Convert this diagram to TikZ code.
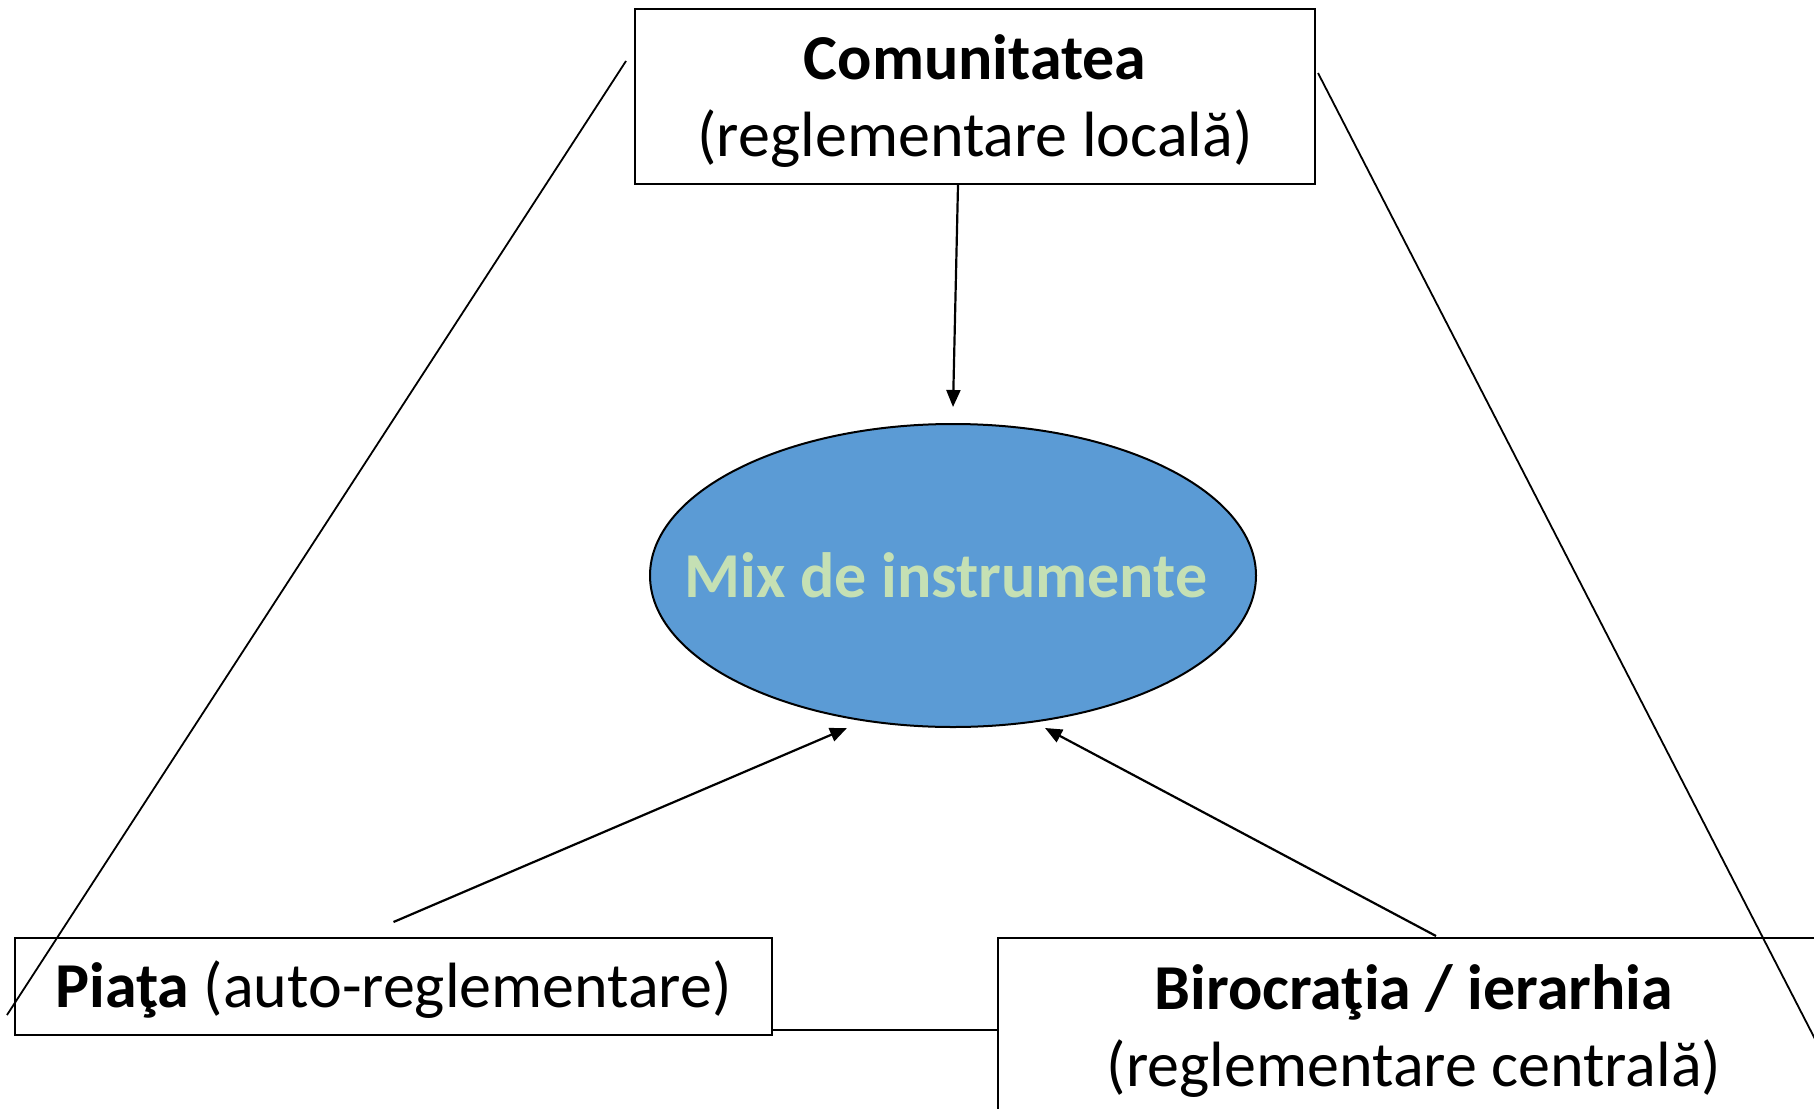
\documentclass[tikz,border=0pt]{standalone}
\usepackage{fontspec}
\setmainfont{Carlito}
\usetikzlibrary{arrows.meta,shapes.geometric,calc}
\definecolor{ellblue}{HTML}{5B9BD5}
\definecolor{lightgreen}{HTML}{C5E0B4}
\begin{document}
\begin{tikzpicture}[x=1pt,y=-1pt,
  box/.style={draw=black,line width=2pt,inner sep=0pt},
  txt/.style={inner sep=0pt,align=center,font=\fontsize{64}{77}\selectfont},
  conn/.style={line width=1.8pt},
  arr/.style={line width=2.2pt,-{Triangle[length=17pt,width=14pt]}}]
\clip (0,0) rectangle (1814,1108);
\fill[white] (0,0) rectangle (1814,1108);
\node[box,minimum width=680pt,minimum height=175pt] (com) at (975,96.5) {};
\node[txt] (comtxt) at ($(com.center)+(0,5)$) {\textbf{Comunitatea}\\(reglementare locală)};
\node[box,minimum width=757pt,minimum height=97pt] (piata) at (393.5,986.5) {};
\node[txt] (piatatxt) at ($(piata.center)+(0,3)$) {\textbf{Piaţa} (auto-reglementare)};
\node[box,minimum width=832pt,minimum height=179pt] (bir) at (1414,1027.5) {};
\node[txt] (birtxt) at ($(bir.center)+(0,4)$) {\textbf{Birocraţia / ierarhia}\\(reglementare centrală)};
\node[ellipse,draw=black,line width=2pt,fill=ellblue,minimum width=606pt,minimum height=303pt,inner sep=0pt] (mix) at (953,575.5) {};
\node[txt,text=lightgreen,font=\fontsize{64}{77}\selectfont\bfseries] (mixtxt) at ($(mix.center)+(-7,0)$) {Mix de instrumente};
\draw[arr] ($(com.south)+(-17,0)$) -- ($(mix.north)+(0,-16)$);
\draw[arr] ($(piata.north)+(0,-15)$) -- ($(mix.south)+(-106,0)$);
\draw[arr] ($(bir.north)+(22,-1)$) -- ($(mix.south)+(92,0)$);
\coordinate (pr) at ($(piata.south east)+(0,-6)$);
\draw[conn] (pr) -- (pr -| bir.west);
\draw[conn] ($(com.north west)+(-8,53)$) -- ($(piata.west)+(-7,28.5)$);
\draw[conn] ($(com.north east)+(2,65)$) -- ($(bir.north east)+(20,172)$);
\end{tikzpicture}
\end{document}
